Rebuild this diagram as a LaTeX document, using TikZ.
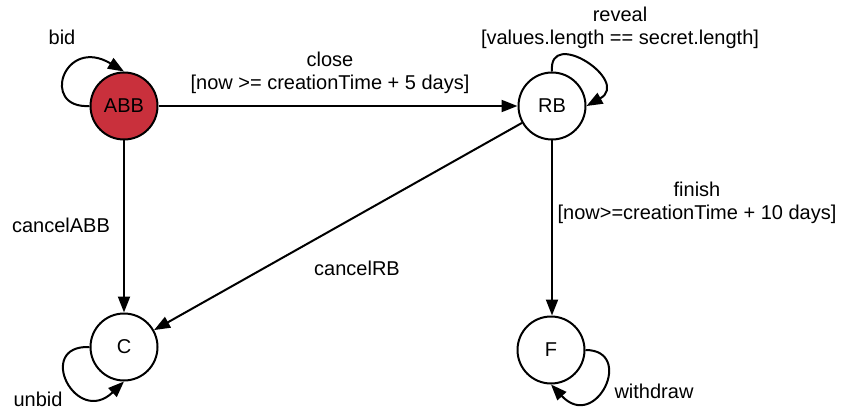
\documentclass[tikz,border=0pt]{standalone}
\usepackage{fontspec}
\setmainfont{Liberation Sans}
\usetikzlibrary{arrows.meta}
\definecolor{abbred}{RGB}{201,48,60}

\begin{document}
\begin{tikzpicture}[x=1pt,y=-1pt,line width=2pt,
      >={Triangle[length=16pt,width=12pt]},
      every node/.style={font=\fontsize{20}{23.6}\selectfont,align=center},
      state/.style={shape=circle,draw,minimum size=67pt,inner sep=0pt}]
  \useasboundingbox (0,0) rectangle (845,414);
  \node[state,fill=abbred] (abb) at (124,106) {ABB};
  \node[state] (rb) at (552,106) {RB};
  \node[state] (c) at (124,347) {C};
  \node[state] (f) at (551,350) {F};
  \draw[->] (abb) -- (rb);
  \draw[->] (abb) -- (c);
  \draw[->] (rb) -- (c);
  \draw[->] (rb) -- (rb |- f.north);
  \draw[->] (abb.west) .. controls +(-50,3) and +(-60,-36) .. (abb.north);
  \draw[->] (rb.north) .. controls +(-4,-45) and +(45,-25) .. (rb.east);
  \draw[->] (c.west) .. controls +(-55,-2) and +(-48,46) .. (c.south);
  \draw[->] (f.east) .. controls +(50,0) and +(45,48) .. (f.south);
  \node (close) at (330,73) {close\\{[}now >= creationTime + 5 days]};
  \node (reveal) at (620,28) {reveal\\{[}values.length == secret.length]};
  \node (finish) at (697,203) {finish\\{[}now>=creationTime + 10 days]};
  \node (cancelabb) at (61,225) {cancelABB};
  \node (cancelrb) at (357,268) {cancelRB};
  \node (bid) at (62,37) {bid};
  \node (unbid) at (38,399) {unbid};
  \node (withdraw) at (654,391) {withdraw};
\end{tikzpicture}
\end{document}
